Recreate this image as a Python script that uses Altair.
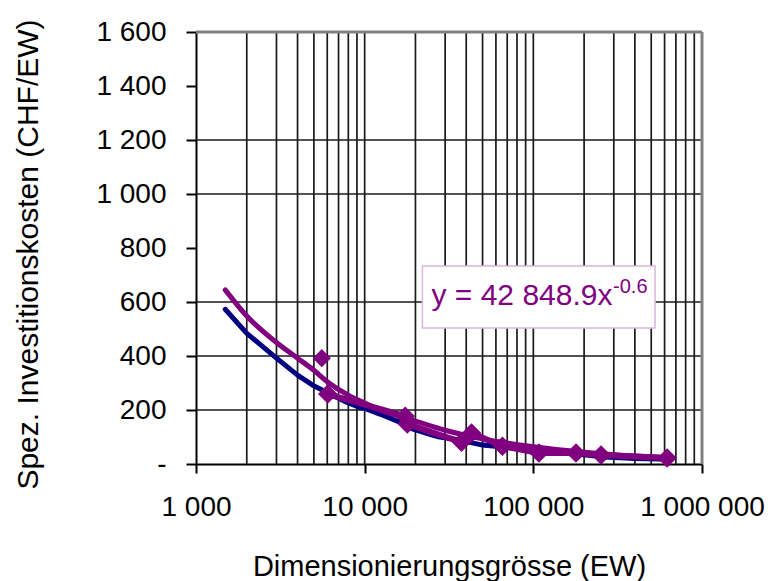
import altair as alt
import pandas as pd

FONT = "Liberation Sans"
PURPLE = "#800080"
NAVY = "#000080"
NB = "\u00a0"

# ---- axis ticks / labels ----
x_ticks = [1000, 10000, 100000, 1000000]
x_tick_labels = ["1 000", "10 000", "100 000", "1 000 000"]
y_ticks = [0, 200, 400, 600, 800, 1000, 1200, 1400, 1600]
y_tick_labels = ["-" + NB * 4, "200", "400", "600", "800", "1 000", "1 200", "1 400", "1 600"]

# gridline positions
grid_x = [2000, 3000, 4000, 5000, 6000, 7000, 8000, 9000, 10000,
          20000, 30000, 40000, 50000, 60000, 70000, 80000, 90000, 100000,
          200000, 300000, 400000, 500000, 600000, 700000, 800000, 900000]
grid_y = [200, 400, 600, 1000, 1200]

# ---- series ----
blue_x = [1490, 2000, 3000, 4000, 4920, 5960, 7820, 9350, 10300, 12300, 17700, 19200,
          25200, 27800, 36500, 50000, 65600, 79300, 108000, 180000, 265000, 400000, 650000]
blue_y = [573, 484, 392, 329, 292, 266, 229, 210, 203, 185, 145, 130,
          107, 100, 89, 70, 63, 59, 44, 37, 26, 20, 18]

trend_x = [1490, 2000, 3000, 4000, 5000, 6000, 8000, 10000, 12300, 18000, 30000,
           50000, 100000, 200000, 400000, 650000]
trend_y = [645, 548, 450, 392, 347, 305, 255, 226, 200, 168, 125,
           93, 64, 44, 30, 23]

pts_x = [6040, 17400, 17900, 37500, 43000, 65600, 108000, 179000, 252000, 621000]
pts_y = [259, 177, 148, 81, 115, 66, 41, 41, 33, 22]

outlier_x = [5570]
outlier_y = [392]

# equation annotation
eq_main = ["y = 42 848.9x"]
eq_exp = ["-0.6"]
eq_main_pos = [24900, 589]
eq_exp_pos = [297000, 633]
eq_box = [22000, 527000, 504, 733]

xscale = alt.Scale(type="log", domain=[1000, 1000000], nice=False)
yscale = alt.Scale(domain=[0, 1600], nice=False, zero=False)


def arr(a):
    return "[" + ",".join(repr(v) if isinstance(v, str) else str(v) for v in a) + "]"


x_label_expr = f"{arr(x_tick_labels)}[indexof({arr(x_ticks)}, datum.value)]"
y_label_expr = f"{arr(y_tick_labels)}[indexof({arr(y_ticks)}, datum.value)]"

x_axis = alt.Axis(
    values=x_ticks, labelExpr=x_label_expr, grid=False,
    tickSize=9, tickWidth=2, tickColor="black",
    domainColor="black", domainWidth=2,
    labelFont=FONT, labelFontSize=28, labelColor="black", labelPadding=20,
    labelFlush=False, labelOverlap=False,
    title="Dimensionierungsgrösse (EW)", titleFont=FONT, titleFontSize=29,
    titleFontWeight="normal", titleColor="black", titleBaseline="alphabetic",
    titleY=111,
)
y_axis = alt.Axis(
    values=y_ticks, labelExpr=y_label_expr, grid=False,
    tickSize=10, tickWidth=2, tickColor="black",
    domainColor="black", domainWidth=2,
    labelFont=FONT, labelFontSize=28, labelColor="black", labelPadding=20,
    labelOverlap=False,
    title="Spez. Investitionskosten (CHF/EW)", titleFont=FONT, titleFontSize=30,
    titleFontWeight="normal", titleColor="black", titleBaseline="alphabetic",
    titleX=-159, titleY=222, titleAngle=-90,
)


def X(f):
    return alt.X(f, type="quantitative", scale=xscale, axis=x_axis)


def Y(f):
    return alt.Y(f, type="quantitative", scale=yscale, axis=y_axis)


gx = pd.DataFrame({"x": grid_x})
gy = pd.DataFrame({"y": grid_y})
blue = pd.DataFrame({"x": blue_x, "y": blue_y})
trend = pd.DataFrame({"x": trend_x, "y": trend_y})
pts = pd.DataFrame({"x": pts_x, "y": pts_y})
outl = pd.DataFrame({"x": outlier_x, "y": outlier_y})
border_top = pd.DataFrame({"y": [y_ticks[-1]]})
border_right = pd.DataFrame({"x": [x_ticks[-1]]})
box = pd.DataFrame({"x": [eq_box[0]], "x2": [eq_box[1]], "y": [eq_box[2]], "y2": [eq_box[3]]})
t_main = pd.DataFrame({"x": [eq_main_pos[0]], "y": [eq_main_pos[1]], "t": eq_main})
t_exp = pd.DataFrame({"x": [eq_exp_pos[0]], "y": [eq_exp_pos[1]], "t": eq_exp})

grid_v = alt.Chart(gx).mark_rule(color="#1a1a1a", strokeWidth=1.7).encode(x=X("x"))
grid_h = alt.Chart(gy).mark_rule(color="#1a1a1a", strokeWidth=1.7).encode(y=Y("y"))
b_top = alt.Chart(border_top).mark_rule(color="#808080", strokeWidth=3).encode(y=Y("y"))
b_right = alt.Chart(border_right).mark_rule(color="#808080", strokeWidth=3).encode(x=X("x"))

blue_line = alt.Chart(blue).mark_line(color=NAVY, strokeWidth=5, strokeCap="round",
                                      strokeJoin="round").encode(x=X("x"), y=Y("y"))
trend_line = alt.Chart(trend).mark_line(color=PURPLE, strokeWidth=5, strokeCap="round",
                                        strokeJoin="round", interpolate="monotone").encode(
    x=X("x"), y=Y("y"))
pts_line = alt.Chart(pts).mark_line(color=PURPLE, strokeWidth=6, strokeJoin="round").encode(
    x=X("x"), y=Y("y"))
pts_pts = alt.Chart(pts).mark_point(shape="diamond", filled=True, color=PURPLE, size=380,
                                    opacity=1).encode(x=X("x"), y=Y("y"))
out_pt = alt.Chart(outl).mark_point(shape="diamond", filled=True, color=PURPLE, size=330,
                                    opacity=1).encode(x=X("x"), y=Y("y"))

box_mark = alt.Chart(box).mark_rect(fill="white", stroke="#d8b8dc", strokeWidth=1.5).encode(
    x=X("x"), x2="x2", y=Y("y"), y2="y2")
txt_main = alt.Chart(t_main).mark_text(align="left", baseline="alphabetic", font=FONT,
                                       fontSize=30, color=PURPLE).encode(
    x=X("x"), y=Y("y"), text="t:N")
txt_exp = alt.Chart(t_exp).mark_text(align="left", baseline="alphabetic", font=FONT,
                                     fontSize=20, color=PURPLE).encode(
    x=X("x"), y=Y("y"), text="t:N")

chart = alt.layer(
    grid_v, grid_h, b_top, b_right,
    blue_line, trend_line, pts_line, pts_pts, out_pt,
    box_mark, txt_main, txt_exp,
).properties(
    width=506, height=432,
    autosize=alt.AutoSizeParams(type="none"),
    padding={"left": 188, "top": 24, "right": 63, "bottom": 117},
    background="white",
).configure_view(strokeWidth=0)

chart.save("out.html", embed_options={"renderer": "svg", "actions": False})
